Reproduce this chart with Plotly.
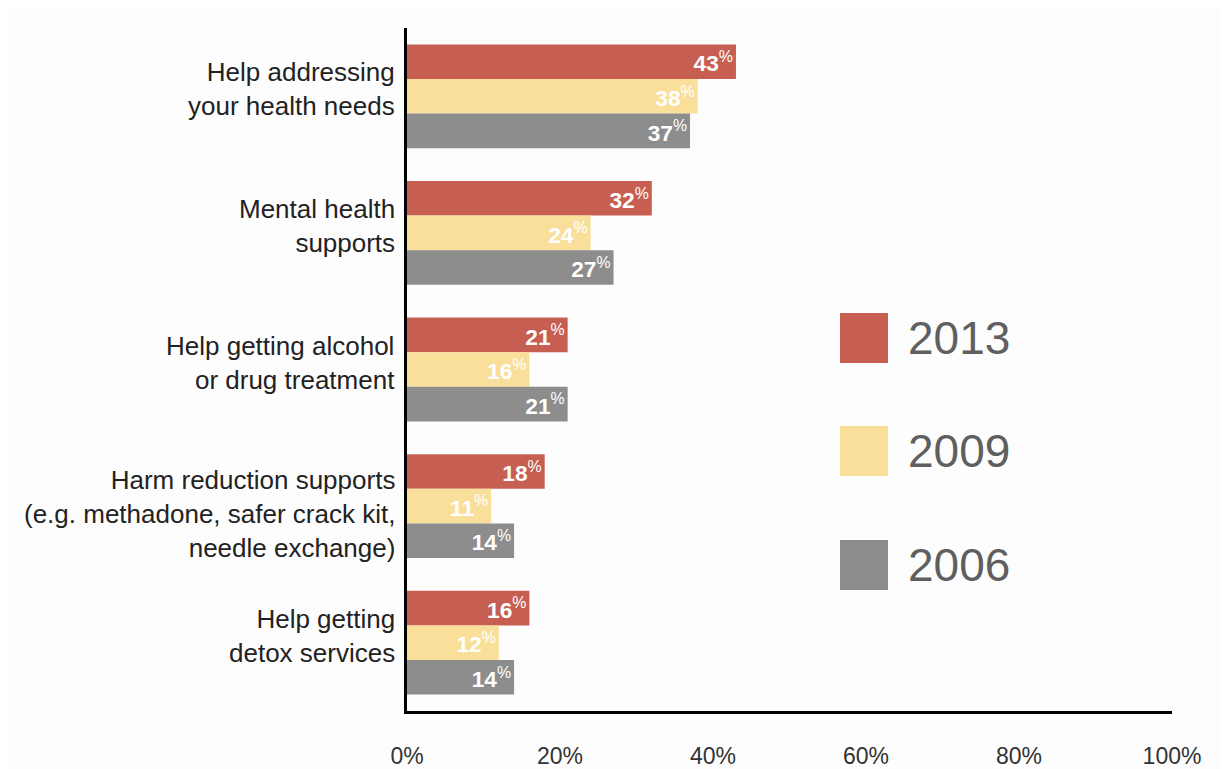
import plotly.graph_objects as go

categories = [
    "Help addressing<br>your health needs",
    "Mental health<br>supports",
    "Help getting alcohol<br>or drug treatment",
    "Harm reduction supports<br>(e.g. methadone, safer crack kit,<br>needle exchange)",
    "Help getting<br>detox services",
]
years = ["2013", "2009", "2006"]
values_2013 = [43, 32, 21, 18, 16]
values_2009 = [38, 24, 16, 11, 12]
values_2006 = [37, 27, 21, 14, 14]
colors = ["#C65E51", "#F9DF9A", "#8D8D8D"]
x_ticks = [0, 20, 40, 60, 80, 100]
x_tick_labels = ["0%", "20%", "40%", "60%", "80%", "100%"]

series = [values_2013, values_2009, values_2006]

# page offset of the figure div (body margin)
OFF = 8
PL, PR, PT, PB = 407, 1172, 28, 711  # plot area in page pixels


def px(X):
    return (X - PL) / (PR - PL)


def py(Y):
    return (PB - Y) / (PB - PT)


fig = go.Figure()
for name, vals, col in zip(years, series, colors):
    fig.add_trace(go.Bar(
        y=categories, x=vals, orientation="h", name=name,
        marker=dict(color=col, line=dict(width=0)),
        text=[f"<b>{v}</b><sup>%</sup>" for v in vals],
        textposition="inside", insidetextanchor="end",
        textfont=dict(family="Liberation Sans, Arial", size=25, color="white"),
        cliponaxis=False, showlegend=False,
    ))

W, H = 1229 - OFF, 769 - OFF
fig.update_layout(
    width=W, height=H,
    margin=dict(l=PL - OFF, r=W - (PR - OFF), t=PT - OFF, b=H - (PB - OFF)),
    paper_bgcolor="#FDFDFD", plot_bgcolor="#FDFDFD",
    barmode="group", bargap=0.24, bargroupgap=0,
    font=dict(family="Liberation Sans, Arial", size=26, color="#222222"),
    xaxis=dict(range=[0, 100], tickvals=x_ticks, ticktext=x_tick_labels,
               showgrid=False, zeroline=False, showline=True, linecolor="black", linewidth=3,
               ticks="", ticklabelstandoff=22, automargin=False,
               tickfont=dict(family="Liberation Sans, Arial", size=23, color="#333333")),
    yaxis=dict(categoryorder="array", categoryarray=categories, range=[4.5, -0.5],
               showgrid=False, zeroline=False, showline=True, linecolor="black", linewidth=3,
               ticks="", showticklabels=False, automargin=False),
)

# category labels as annotations (right aligned next to the axis)
for cat in categories:
    nlines = cat.count("<br>") + 1
    fig.add_annotation(xref="paper", yref="y", x=0, y=cat, text=cat,
                       showarrow=False, xanchor="right", yanchor="middle", align="right",
                       xshift=-10, yshift=7 if nlines == 2 else -8,
                       font=dict(family="Liberation Sans, Arial", size=26, color="#222222"))

# legend drawn manually
leg_y = [338, 451, 565]
for name, col, yc in zip(years, colors, leg_y):
    fig.add_shape(type="rect", xref="paper", yref="paper",
                  x0=px(840), x1=px(888), y0=py(yc + 25), y1=py(yc - 25),
                  fillcolor=col, line=dict(width=0))
    fig.add_annotation(xref="paper", yref="paper", x=px(906), y=py(yc),
                       text=name, showarrow=False, xanchor="left", yanchor="middle",
                       font=dict(family="Liberation Sans, Arial", size=46, color="#5F5F5F"))

fig.write_html("out.html")
